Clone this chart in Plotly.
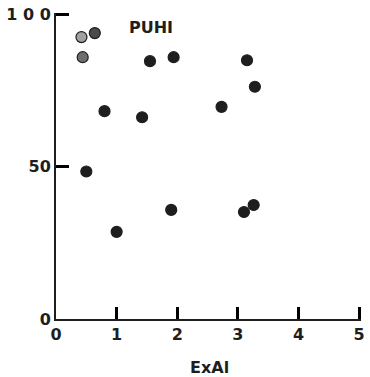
import plotly.graph_objects as go

# ExAl vs PUHI observations
exal = [0.42, 0.64, 0.44, 1.55, 1.94, 0.80, 1.42, 3.15, 3.28, 2.73,
        3.26, 3.10, 0.50, 1.00, 1.90]
puhi = [92.5, 93.8, 85.9, 84.6, 85.9, 68.2, 66.2, 84.9, 76.2, 69.6,
        37.4, 35.1, 48.4, 28.6, 35.8]

x_ticks = [0, 1, 2, 3, 4, 5]
x_tick_text = ["0", "1", "2", "3", "4", "5"]
y_ticks = [0, 50, 100]
y_tick_text = ["0", "50", "1 0 0"]

INK = "#1e1e1e"
FONT = dict(family="DejaVu Sans", size=16, color=INK, weight="bold")

# first three points are printed with lighter, hatched fills
fills = [INK] * len(exal)
fills[0] = "#a0a0a0"
fills[1] = "#4a4a4a"
fills[2] = "#6e6e6e"

fig = go.Figure(
    go.Scatter(
        x=exal,
        y=puhi,
        mode="markers",
        marker=dict(size=11, color=fills, line=dict(color=INK, width=1.2)),
        hoverinfo="skip",
    )
)

axis_common = dict(
    showgrid=False,
    zeroline=False,
    showline=True,
    linecolor=INK,
    linewidth=2,
    ticks="inside",
    tickcolor="#000000",
    tickwidth=2.5,
    tickfont=FONT,
)

# ranges run a hair past the last tick so the end ticks are drawn
fig.update_xaxes(
    range=[0, 5.03],
    tickmode="array",
    tickvals=x_ticks,
    ticktext=x_tick_text,
    ticklen=12,
    **axis_common,
)
fig.update_yaxes(
    range=[0, 100.4],
    tickmode="array",
    tickvals=y_ticks,
    ticktext=y_tick_text,
    ticklen=13,
    **axis_common,
)

fig.add_annotation(
    x=1.57, y=95.8, xref="x", yref="y",
    text="PUHI", showarrow=False, font=FONT,
)
fig.add_annotation(
    x=2.53, y=-0.157, xref="x", yref="paper", yanchor="middle",
    text="ExAl", showarrow=False, font=FONT,
)

fig.update_layout(
    width=370,
    height=377,
    margin=dict(l=56, r=5, t=13, b=58),
    paper_bgcolor="white",
    plot_bgcolor="white",
    showlegend=False,
)

fig.write_html("out.html")
